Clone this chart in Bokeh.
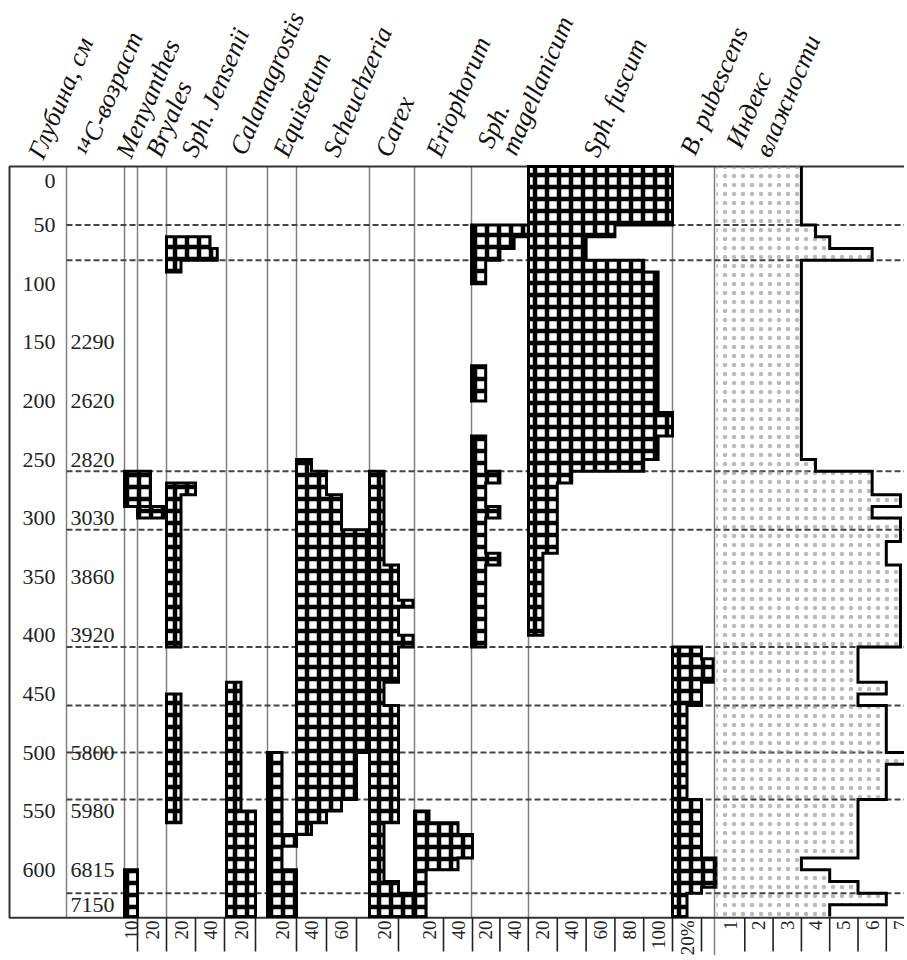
from bokeh.plotting import figure
from bokeh.models import Range1d
from bokeh.core.properties import value
from bokeh.embed import file_html
from bokeh.resources import INLINE
import math

# ---------------- data ----------------
depth_ticks = [0, 50, 100, 150, 200, 250, 300, 350, 400, 450, 500, 550, 600]
age_depths = [150, 200, 250, 300, 350, 400, 500, 550, 600, 630]
age_labels = ["2290", "2620", "2820", "3030", "3860", "3920", "5800", "5980", "6815", "7150"]
zone_depths = [50, 80, 260, 310, 410, 460, 500, 540, 620]

menyanthes_bounds = [260, 290, 600, 640]
menyanthes_pct = [20, 0, 10]
bryales_bounds = [290, 300]
bryales_pct = [20]
jensenii_bounds = [60, 70, 80, 90, 270, 280, 410, 450, 560]
jensenii_pct = [30, 35, 10, 0, 20, 10, 0, 10]
calamagrostis_bounds = [440, 550, 640]
calamagrostis_pct = [10, 20]
equisetum_bounds = [500, 570, 580, 600, 640]
equisetum_pct = [10, 20, 10, 20]
scheuchzeria_bounds = [250, 260, 280, 310, 500, 540, 550, 560, 570]
scheuchzeria_pct = [10, 20, 30, 48, 40, 30, 20, 10]
carex_bounds = [260, 340, 370, 376, 400, 410, 440, 460, 560, 610, 620, 640]
carex_pct = [10, 20, 30, 20, 30, 20, 10, 20, 10, 20, 30]
eriophorum_bounds = [550, 560, 570, 590, 600, 640]
eriophorum_pct = [10, 30, 40, 30, 8]
magellanicum_bounds = [50, 60, 70, 80, 100, 170, 200, 230, 260, 270, 290, 300, 330, 340, 410]
magellanicum_pct = [40, 30, 20, 10, 0, 10, 0, 10, 20, 10, 20, 10, 20, 10]
fuscum_bounds = [0, 50, 60, 80, 90, 210, 230, 250, 260, 270, 330, 400]
fuscum_pct = [100, 60, 40, 80, 90, 100, 90, 80, 30, 20, 10]
pubescens_bounds = [410, 420, 440, 460, 540, 590, 615, 620, 640]
pubescens_pct = [20, 28, 20, 10, 20, 30, 20, 10]
moisture_bounds = [0, 50, 60, 70, 80, 250, 260, 280, 290, 300, 320, 340, 410, 440,
                   450, 460, 500, 510, 540, 590, 600, 610, 620, 630, 640]
moisture_index = [3, 3.5, 4, 5.5, 3, 3.5, 5.5, 6.5, 5.5, 6.5, 6, 6.5, 5, 6, 5, 6, 7, 6,
                  5, 3, 4, 5, 6, 4]

headers = ["Глубина, см", "¹⁴C-возраст", "Menyanthes", "Bryales", "Sph. Jensenii",
           "Calamagrostis", "Equisetum", "Scheuchzeria", "Carex", "Eriophorum", "Sph.",
           "magellanicum", "Sph. fuscum", "B. pubescens", "Индекс", "влажности"]

# tick values (in each column's own scale) and their printed labels
menyanthes_ticks, menyanthes_tick_labels = [10], ["10"]
bryales_ticks, bryales_tick_labels = [20], ["20"]
jensenii_ticks, jensenii_tick_labels = [20, 40], ["20", "40"]
calamagrostis_ticks, calamagrostis_tick_labels = [20], ["20"]
equisetum_ticks, equisetum_tick_labels = [20], ["20"]
scheuchzeria_ticks, scheuchzeria_tick_labels = [20, 40], ["40", "60"]
carex_ticks, carex_tick_labels = [20], ["20"]
eriophorum_ticks, eriophorum_tick_labels = [20, 40], ["20", "40"]
magellanicum_ticks, magellanicum_tick_labels = [20, 40], ["20", "40"]
fuscum_ticks, fuscum_tick_labels = [20, 40, 60, 80, 100], ["20", "40", "60", "80", "100"]
pubescens_ticks, pubescens_tick_labels = [20], ["20%"]
moisture_ticks, moisture_tick_labels = [1, 2, 3, 4, 5, 6, 7], ["1", "2", "3", "4", "5", "6", "7"]

# ---------------- layout ----------------
W, H = 904, 955
OX, OY = 1, 1                # page position of the figure's top-left corner
X0, X1 = OX, OX + W          # main x range in page pixels
Y_TOP, PXCM = 167.0, 1.172   # page y of depth 0, px per cm


def d_of(ypage):
    return (ypage - Y_TOP) / PXCM


FONT = value("Liberation Serif")

p = figure(width=W, height=H, output_backend="svg", toolbar_location=None,
           x_range=Range1d(X0, X1), y_range=Range1d(d_of(OY + H), d_of(OY)),
           min_border=0, min_border_left=0, min_border_right=0,
           min_border_top=0, min_border_bottom=0)
p.axis.visible = False
p.grid.visible = False
p.outline_line_color = None
p.background_fill_color = "white"
p.border_fill_color = "white"

# column: (left edge px, px per unit)
columns = {
    "menyanthes": (125, 1.3),
    "bryales": (138, 1.45),
    "jensenii": (167, 1.45),
    "calamagrostis": (227, 1.45),
    "equisetum": (268, 1.45),
    "scheuchzeria": (297, 1.5),
    "carex": (370, 1.45),
    "eriophorum": (415, 1.45),
    "magellanicum": (472, 1.42),
    "fuscum": (529, 1.44),
    "pubescens": (673, 1.45),
    "moisture": (717, 28.3),
}
for name, (left, s) in columns.items():
    p.extra_x_ranges[name] = Range1d((X0 - left) / s, (X1 - left) / s)

D_BOT = 641  # depth of bottom border
RIGHT = 907

# column separators
sep_x = [67, 125, 138, 167, 227, 268, 297, 370, 415, 472, 529, 673, 715]
p.segment(x0=sep_x, x1=sep_x, y0=[0] * len(sep_x), y1=[D_BOT] * len(sep_x),
          line_color="#808080", line_width=1.5)
p.segment(x0=[715], x1=[715], y0=[D_BOT], y1=[d_of(958)], line_color="#808080", line_width=1.5)

# zone dashed lines
p.segment(x0=[67] * len(zone_depths), x1=[RIGHT] * len(zone_depths), y0=zone_depths, y1=zone_depths,
          line_color="#444444", line_width=2, line_dash="6 3")

# frame
p.line(x=[RIGHT, 10, 10, RIGHT], y=[0, 0, D_BOT, D_BOT], line_color="#333333", line_width=2)


def step_polys(bounds, vals):
    xs, ys = [], []
    i, n = 0, len(vals)
    while i < n:
        if vals[i] <= 0:
            i += 1
            continue
        j = i
        while j < n and vals[j] > 0:
            j += 1
        px, py = [0], [bounds[i]]
        for k in range(i, j):
            px += [vals[k], vals[k]]
            py += [bounds[k], bounds[k + 1]]
        px.append(0)
        py.append(bounds[j])
        xs.append(px)
        ys.append(py)
        i = j
    return xs, ys


series = [
    ("menyanthes", menyanthes_bounds, menyanthes_pct),
    ("bryales", bryales_bounds, bryales_pct),
    ("jensenii", jensenii_bounds, jensenii_pct),
    ("calamagrostis", calamagrostis_bounds, calamagrostis_pct),
    ("equisetum", equisetum_bounds, equisetum_pct),
    ("scheuchzeria", scheuchzeria_bounds, scheuchzeria_pct),
    ("carex", carex_bounds, carex_pct),
    ("eriophorum", eriophorum_bounds, eriophorum_pct),
    ("magellanicum", magellanicum_bounds, magellanicum_pct),
    ("fuscum", fuscum_bounds, fuscum_pct),
    ("pubescens", pubescens_bounds, pubescens_pct),
]
for name, b, v in series:
    xs, ys = step_polys(b, v)
    p.patches(xs=xs, ys=ys, x_range_name=name, fill_color="white", line_color="black",
              line_width=3, line_join="miter", hatch_pattern="+", hatch_color="black",
              hatch_weight=4.5, hatch_scale=12)

# moisture index
mxs, mys = step_polys(moisture_bounds, moisture_index)
p.patches(xs=mxs, ys=mys, x_range_name="moisture", fill_color=None, line_color=None,
          hatch_pattern=".", hatch_color="#8c8c8c", hatch_alpha=0.6, hatch_weight=0.5,
          hatch_scale=9)
lx, ly = [], []
for k, v in enumerate(moisture_index):
    lx += [v, v]
    ly += [moisture_bounds[k], moisture_bounds[k + 1]]
p.line(x=lx, y=ly, x_range_name="moisture", line_color="black", line_width=3, line_join="miter")

# depth and age labels
p.text(x=[56] * (len(depth_ticks) - 1), y=depth_ticks[1:], text=[str(d) for d in depth_ticks[1:]],
       text_align="right", text_baseline="middle", text_font=FONT, text_font_size="22px",
       text_color="#222222")
p.text(x=[56], y=[depth_ticks[0]], text=[str(depth_ticks[0])], text_align="right",
       text_baseline="top", y_offset=7, text_font=FONT, text_font_size="22px", text_color="#222222")
p.text(x=[71] * len(age_labels), y=age_depths, text=age_labels, text_align="left",
       text_baseline="middle", text_font=FONT, text_font_size="22px", text_color="#222222")

# bottom ticks
tick_sets = [
    ("menyanthes", menyanthes_ticks, menyanthes_tick_labels),
    ("bryales", bryales_ticks, bryales_tick_labels),
    ("jensenii", jensenii_ticks, jensenii_tick_labels),
    ("calamagrostis", calamagrostis_ticks, calamagrostis_tick_labels),
    ("equisetum", equisetum_ticks, equisetum_tick_labels),
    ("scheuchzeria", scheuchzeria_ticks, scheuchzeria_tick_labels),
    ("carex", carex_ticks, carex_tick_labels),
    ("eriophorum", eriophorum_ticks, eriophorum_tick_labels),
    ("magellanicum", magellanicum_ticks, magellanicum_tick_labels),
    ("fuscum", fuscum_ticks, fuscum_tick_labels),
    ("pubescens", pubescens_ticks, pubescens_tick_labels),
    ("moisture", moisture_ticks, moisture_tick_labels),
]
for name, ticks, labels in tick_sets:
    step = ticks[0] if len(ticks) == 1 else ticks[1] - ticks[0]
    p.segment(x0=ticks, x1=ticks, y0=[D_BOT] * len(ticks), y1=[d_of(952)] * len(ticks),
              x_range_name=name, line_color="#222222", line_width=1.6)
    p.text(x=[t - step / 2 for t in ticks], y=[d_of(921)] * len(ticks), text=labels,
           x_range_name=name, angle=math.pi / 2, text_align="right", text_baseline="middle",
           text_font=FONT, text_font_size="19px", text_color="#222222")

# rotated headers (anchor = start of baseline, page px)
header_x = [36, 84, 124, 154, 189, 238, 281, 331, 383, 434, 485, 509, 591, 688, 734, 763]
header_y = [158, 156, 157, 156, 156, 154, 156, 156, 156, 156, 147, 154, 156, 154, 147, 156]
p.text(x=header_x, y=[d_of(y) for y in header_y], text=headers, angle=math.radians(67),
       text_align="left", text_baseline="alphabetic", text_font=FONT,
       text_font_style="italic", text_font_size="26px", text_color="#111111")

open("out.html", "w").write(file_html(p, INLINE))
